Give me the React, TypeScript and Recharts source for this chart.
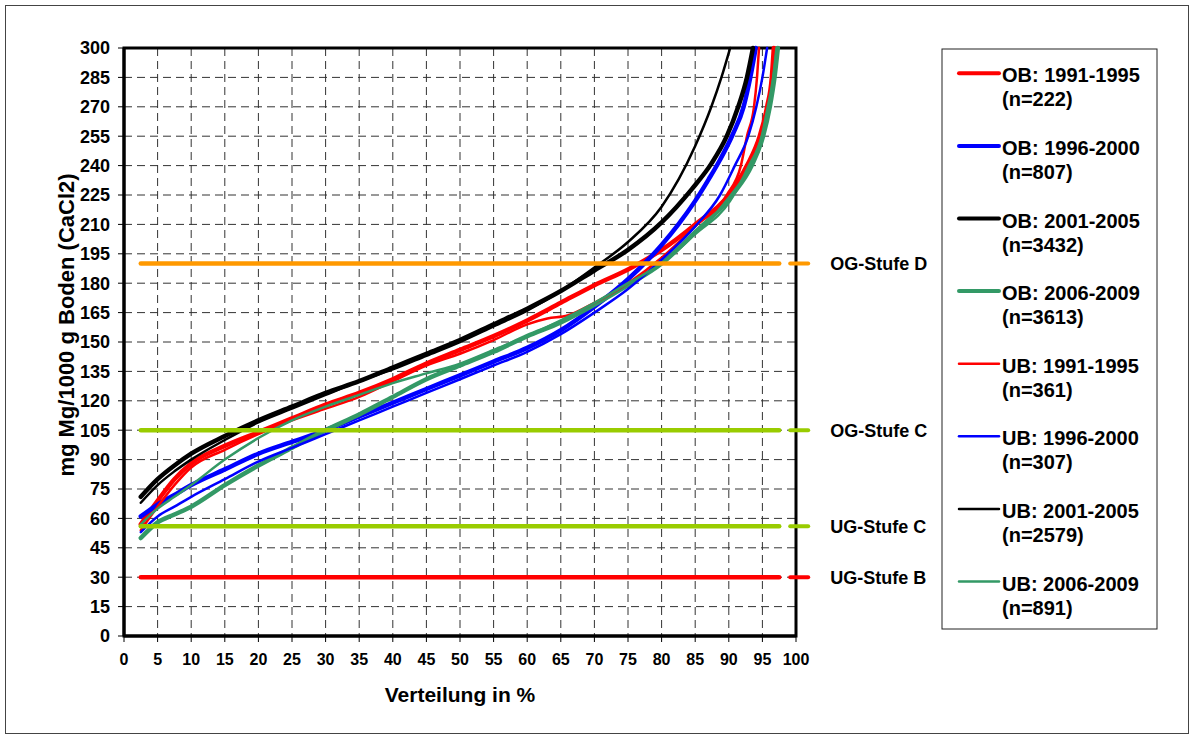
import {
  LineChart,
  Line,
  XAxis,
  YAxis,
  CartesianGrid,
  ReferenceLine,
  ReferenceArea,
  Label,
} from "recharts"

const FONT = "'Liberation Sans', Arial, sans-serif"

const xTicks = [0, 5, 10, 15, 20, 25, 30, 35, 40, 45, 50, 55, 60, 65, 70, 75, 80, 85, 90, 95, 100]
const yTicks = [0, 15, 30, 45, 60, 75, 90, 105, 120, 135, 150, 165, 180, 195, 210, 225, 240, 255, 270, 285, 300]

// [Verteilung %, mg Mg/1000 g]
const ob1991: [number, number][] = [
  [2.5, 57], [5, 69], [7.5, 80], [10, 88], [15, 97], [20, 104], [25, 111], [30, 118], [35, 124],
  [40, 131], [45, 139], [50, 146], [55, 153], [60, 161], [65, 170], [70, 179], [75, 187], [80, 197],
  [85, 210], [90.2, 226], [92.7, 240], [94.6, 255], [95.7, 270], [96.4, 285], [96.7, 300],
]
const ob1996: [number, number][] = [
  [2.5, 61], [5, 67], [7.5, 72], [10, 77], [15, 85], [20, 93], [25, 99], [30, 105], [35, 112],
  [40, 119], [45, 126], [50, 133], [55, 140], [60, 147], [65, 156], [70, 168], [75, 182], [78, 192],
  [80, 199.5], [82.5, 210], [85, 222], [87, 233], [88.7, 243], [90.6, 256], [92.2, 270], [93.2, 285], [94, 300],
]
const ob2001: [number, number][] = [
  [2.5, 71], [5, 80], [7.5, 87], [10, 93], [15, 102], [20, 110], [25, 117], [30, 124], [35, 130],
  [40, 137], [45, 144], [50, 151], [55, 159], [60, 167], [65, 176], [70, 186.5], [75, 197], [80, 211],
  [84.5, 228], [87.4, 241], [89.7, 255], [91.4, 270], [92.7, 285], [93.6, 300],
]
const ob2006: [number, number][] = [
  [2.5, 50], [5, 58], [7.5, 62], [10, 66], [15, 77], [20, 87], [25, 96], [30, 105], [35, 113],
  [40, 122], [45, 131], [50, 138], [55, 145], [60, 153], [65, 160], [70, 169], [75, 179], [80, 190],
  [85, 206], [90.5, 225], [93.4, 240], [95.1, 255], [96.1, 270], [96.8, 285], [97.3, 300],
]
const ub1991: [number, number][] = [
  [2.5, 54], [5, 66], [7.5, 77], [10, 86], [15, 95], [20, 103], [25, 110], [30, 116], [35, 122],
  [40, 130], [45, 138], [50, 144], [55, 151], [60, 159], [63, 162], [66, 163.5], [70, 170], [75, 180],
  [80, 193], [85, 209], [89.7, 225], [91.8, 240], [92.7, 255], [93.75, 270], [94.2, 285], [94.5, 300],
]
const ub1996: [number, number][] = [
  [2.5, 53], [5, 61], [7.5, 66], [10, 71], [15, 80], [20, 89], [25, 96], [30, 103], [35, 110],
  [40, 117], [45, 124], [50, 131], [55, 138], [60, 145], [65, 154], [70, 165], [75, 177], [80, 192],
  [85, 209], [88.7, 225], [90.9, 240], [92.9, 255], [94.1, 270], [95, 285], [95.7, 300],
]
const ub2001: [number, number][] = [
  [2.5, 68], [5, 77], [7.5, 84], [10, 90], [15, 100], [20, 109], [25, 116], [30, 123], [35, 130],
  [40, 136], [45, 143], [50, 150], [55, 158], [60, 166], [65, 176], [70, 188], [75, 201], [80, 219],
  [85, 250], [87.4, 270], [88.9, 285], [90.2, 300],
]
const ub2006: [number, number][] = [
  [2.5, 57], [5, 65], [7.5, 71], [10, 77], [15, 90], [20, 101], [25, 110], [30, 117], [35, 123],
  [40, 129], [45, 134], [50, 139], [55, 146], [60, 153], [65, 161], [70, 170], [75, 180], [80, 190],
  [85, 205], [90.2, 222], [93, 240], [94.9, 255], [95.8, 270], [96.6, 285], [97.1, 300],
]

const series = [
  { name: "OB: 1991-1995", n: "(n=222)", color: "#ff0000", width: 4.5, data: ob1991 },
  { name: "OB: 1996-2000", n: "(n=807)", color: "#0000ff", width: 4.5, data: ob1996 },
  { name: "OB: 2001-2005", n: "(n=3432)", color: "#000000", width: 4.5, data: ob2001 },
  { name: "OB: 2006-2009", n: "(n=3613)", color: "#339966", width: 4.5, data: ob2006 },
  { name: "UB: 1991-1995", n: "(n=361)", color: "#ff0000", width: 2.5, data: ub1991 },
  { name: "UB: 1996-2000", n: "(n=307)", color: "#0000ff", width: 2.5, data: ub1996 },
  { name: "UB: 2001-2005", n: "(n=2579)", color: "#000000", width: 2.5, data: ub2001 },
  { name: "UB: 2006-2009", n: "(n=891)", color: "#339966", width: 2.5, data: ub2006 },
]

const stufen = [
  { label: "OG-Stufe D", value: 190, color: "#ff9900" },
  { label: "OG-Stufe C", value: 105, color: "#99cc00" },
  { label: "UG-Stufe C", value: 56, color: "#99cc00" },
  { label: "UG-Stufe B", value: 30, color: "#ff0000" },
]

const stufeLabel = (text: string, color: string) => (props: any) => {
  const vb = props.viewBox
  if (!vb) return null
  const xEnd = vb.x + vb.width
  const y = vb.y
  return (
    <g>
      <line x1={xEnd + 11} x2={xEnd + 29} y1={y} y2={y} stroke={color} strokeWidth={4} strokeLinecap="round" />
      <text x={xEnd + 51} y={y} dy="0.35em" fontSize={18} fontWeight={700} fontFamily={FONT} fill="#000">
        {text}
      </text>
    </g>
  )
}

function LegendBox() {
  return (
    <svg
      width={217}
      height={582}
      style={{ position: "absolute", left: 941, top: 48 }}
    >
      <rect x={1} y={1} width={215} height={580} fill="#fff" stroke="#222" strokeWidth={1} />
      {series.map((s, i) => {
        const y0 = 25.3 + 72.6 * i
        return (
          <g key={s.name}>
            <line x1={18} x2={58} y1={y0} y2={y0} stroke={s.color} strokeWidth={s.width === 4.5 ? 4 : 2.5} strokeLinecap="round" />
            <text x={61} y={y0 + 9} fontSize={20} fontWeight={700} fontFamily={FONT} fill="#000">
              {s.name}
            </text>
            <text x={61} y={y0 + 33} fontSize={20} fontWeight={700} fontFamily={FONT} fill="#000">
              {s.n}
            </text>
          </g>
        )
      })}
    </svg>
  )
}

export default function App() {
  return (
    <div style={{ position: "absolute", left: 0, top: 0, width: 1194, height: 738, background: "#fff", fontFamily: FONT }}>
      <div style={{ position: "absolute", left: 5, top: 5, width: 1182, height: 727, border: "1px solid #444" }} />
      <div style={{ position: "absolute", left: 0, top: 0 }}>
        <LineChart width={1194} height={738} margin={{ top: 48, right: 398, left: 64, bottom: 62 }}>
          <CartesianGrid strokeDasharray="8 5" stroke="#333" strokeWidth={1} />
          <XAxis
            type="number"
            dataKey="x"
            domain={[0, 100]}
            ticks={xTicks}
            interval={0}
            height={40}
            tick={{ fontSize: 16, fontWeight: 700, fill: "#000", fontFamily: FONT }}
            tickSize={6}
            tickMargin={12}
            axisLine={{ stroke: "#000", strokeWidth: 3 }}
            tickLine={{ stroke: "#000", strokeWidth: 1 }}
          >
            <Label
              content={() => (
                <text x={460} y={702} textAnchor="middle" fontSize={21} fontWeight={700} fontFamily={FONT} fill="#000">
                  Verteilung in %
                </text>
              )}
            />
          </XAxis>
          <YAxis
            type="number"
            domain={[0, 300]}
            ticks={yTicks}
            interval={0}
            width={60}
            tick={{ fontSize: 18, fontWeight: 700, fill: "#000", fontFamily: FONT }}
            tickSize={6}
            tickMargin={8}
            axisLine={{ stroke: "#000", strokeWidth: 3 }}
            tickLine={{ stroke: "#000", strokeWidth: 1 }}
          >
            <Label
              content={() => (
                <text
                  x={66}
                  y={325}
                  transform="rotate(-90 66 325)"
                  textAnchor="middle"
                  dy="0.35em"
                  fontSize={22}
                  fontWeight={700}
                  fontFamily={FONT}
                  fill="#000"
                >
                  mg Mg/1000 g Boden (CaCl2)
                </text>
              )}
            />
          </YAxis>
          {series.map((s) => (
            <Line
              key={s.name}
              name={s.name}
              data={s.data.map(([x, y]) => ({ x, y }))}
              dataKey="y"
              type="monotone"
              stroke={s.color}
              strokeWidth={s.width}
              strokeLinecap="round"
              dot={false}
              activeDot={false}
              isAnimationActive={false}
            />
          ))}
          {stufen.map((r) => (
            <ReferenceLine
              key={r.label}
              segment={[{ x: 2.5, y: r.value }, { x: 97.5, y: r.value }]}
              stroke={r.color}
              strokeWidth={4.5}
              strokeLinecap="round"
              label={stufeLabel(r.label, r.color)}
            />
          ))}
          <ReferenceArea x1={0} x2={100} y1={0} y2={300} fill="none" stroke="#000" strokeWidth={3} />
        </LineChart>
      </div>
      <LegendBox />
    </div>
  )
}
